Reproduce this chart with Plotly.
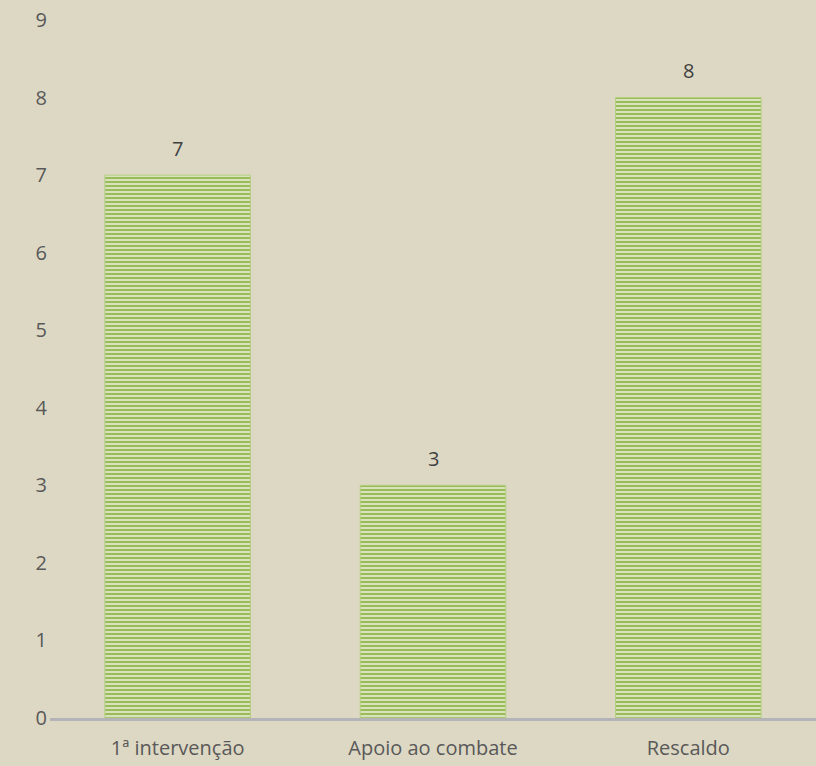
import plotly.graph_objects as go

categories = ["1ª intervenção", "Apoio ao combate", "Rescaldo"]
values = [7, 3, 8]
y_ticks = [0, 1, 2, 3, 4, 5, 6, 7, 8, 9]

fig = go.Figure(go.Bar(
    x=categories,
    y=values,
    width=0.57,
    marker=dict(
        color="#EEF2E2",
        line=dict(color="#B4CF80", width=1),
        pattern=dict(shape="-", fgcolor="#9BBB59", bgcolor="#E8EED8",
                     size=4, solidity=0.6, fillmode="replace"),
    ),
))

for c, v in zip(categories, values):
    fig.add_annotation(x=c, y=v, text=str(v), showarrow=False,
                       yanchor="middle", yshift=27,
                       font=dict(size=20, color="#404040"))

fig.update_layout(
    width=816, height=766,
    margin=dict(l=50, r=0, t=20, b=48),
    paper_bgcolor="#DDD8C4",
    plot_bgcolor="#DDD8C4",
    font=dict(family="Open Sans", size=20, color="#595959"),
    showlegend=False,
    xaxis=dict(showgrid=False, showline=True, linecolor="#B3B3B8", linewidth=2.5,
               ticks="", tickfont=dict(size=20), ticklabelstandoff=10),
    yaxis=dict(range=[0, 9], tickvals=y_ticks, showgrid=False, zeroline=False,
               showline=False, ticks="", ticklabelstandoff=2, tickfont=dict(size=20)),
)

fig.write_html("out.html", config={"displayModeBar": False},
               post_script="document.body.style.margin='0';document.body.style.background='#DDD8C4';")
